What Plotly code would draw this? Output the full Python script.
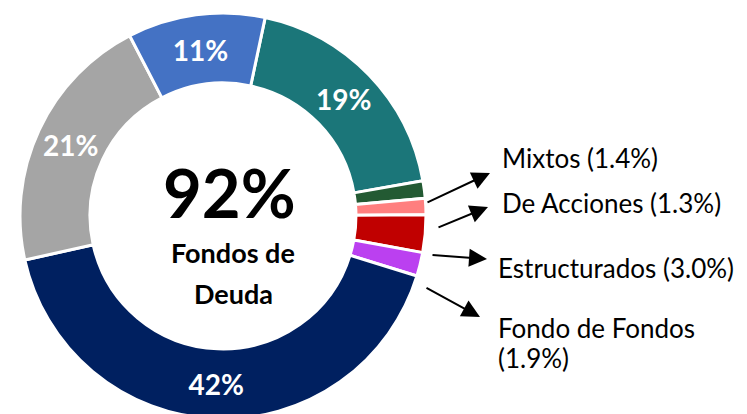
import plotly.graph_objects as go

W, H = 747, 414
OFF = 8  # the page body adds an 8px margin around the figure

# slice data, clockwise from the top
labels = ["Fondos de Deuda 19%", "Mixtos", "De Acciones", "Estructurados",
          "Fondo de Fondos", "Fondos de Deuda 42%", "Fondos de Deuda 21%",
          "Fondos de Deuda 11%"]
values = [19, 1.4, 1.3, 3.0, 1.9, 42, 21, 11]
slice_text = ["19%", "", "", "", "", "42%", "21%", "11%"]
colors = ["#1B7679", "#235A33", "#FF7F7F", "#C00000", "#BB40F0",
          "#002060", "#A5A5A5", "#4472C4"]

center_big = "92%"
center_lines = ["Fondos de", "Deuda"]
callouts = ["Mixtos (1.4%)", "De Acciones (1.3%)", "Estructurados (3.0%)",
            "Fondo de Fondos", "(1.9%)"]

FONT = "Lato"


def px(x):
    return (x - OFF) / W


def py(y):
    return 1 - (y - OFF) / H


fig = go.Figure(
    go.Pie(
        labels=labels,
        values=values,
        text=slice_text,
        textinfo="text",
        textposition="inside",
        insidetextorientation="horizontal",
        textfont=dict(family=FONT, size=28, color="white", weight="bold"),
        hole=0.655,
        sort=False,
        direction="clockwise",
        rotation=12,
        marker=dict(colors=colors, line=dict(color="white", width=3)),
        domain=dict(x=[px(20), px(426)], y=[py(419), py(13)]),
        showlegend=False,
    )
)

annotations = [
    dict(x=px(230), y=py(192), text="<b>%s</b>" % center_big,
         font=dict(family=FONT, size=67, color="black")),
    dict(x=px(233), y=py(253), text="<b>%s</b>" % center_lines[0],
         font=dict(family=FONT, size=27, color="black")),
    dict(x=px(233), y=py(293), text="<b>%s</b>" % center_lines[1],
         font=dict(family=FONT, size=27, color="black")),
]

# callout text (left edge, vertical centre)
label_pos = [(500, 158), (500, 203), (496, 268), (496, 328), (496, 358)]
for txt, (x, y) in zip(callouts, label_pos):
    annotations.append(dict(x=px(x), y=py(y), text=txt, xanchor="left",
                            font=dict(family=FONT, size=26, color="black")))

# arrows: tail -> head
arrows = [((426, 203), (490, 173)), ((437, 228), (488, 207)),
          ((431, 255), (487, 259)), ((425, 287), (480, 317))]
for (tx, ty), (hx, hy) in arrows:
    annotations.append(dict(x=px(hx), y=py(hy), ax=tx - hx, ay=ty - hy,
                            text="", showarrow=True, arrowhead=2,
                            arrowsize=1.8, arrowwidth=2, arrowcolor="black"))

for a in annotations:
    a.setdefault("xref", "paper")
    a.setdefault("yref", "paper")
    a.setdefault("xanchor", "center")
    a.setdefault("yanchor", "middle")
    a.setdefault("showarrow", False)

fig.update_layout(
    width=W, height=H,
    margin=dict(l=0, r=0, t=0, b=0),
    paper_bgcolor="white",
    plot_bgcolor="white",
    annotations=annotations,
)

fig.write_html("out.html")
